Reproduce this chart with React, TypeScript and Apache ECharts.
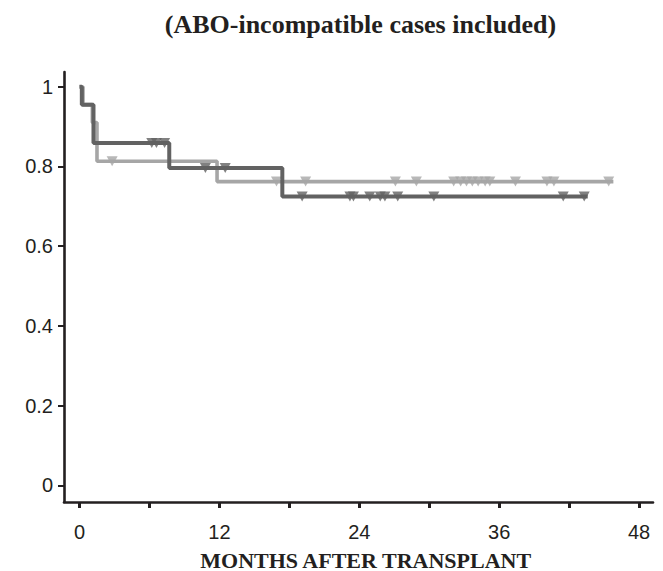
import React, { useEffect, useRef } from "react";
import * as echarts from "echarts";

// Kaplan-Meier step curves (time in months, survival proportion)
const darkTimes = [0, 0.2, 1.2, 7.7, 17.4, 43.6];
const darkSurv = [1, 0.955, 0.859, 0.796, 0.725, 0.725];
const lightTimes = [0, 0.3, 1.1, 1.5, 11.8, 45.8];
const lightSurv = [1, 0.955, 0.91, 0.813, 0.762, 0.762];

// censored observations
const darkCensorTimes = [6.2, 6.6, 7.3, 10.8, 12.5, 19.1, 23.2, 23.5, 24.9, 25.8, 26.2, 27.3, 30.4, 41.5, 43.3];
const darkCensorSurv = [0.859, 0.859, 0.859, 0.796, 0.796, 0.725, 0.725, 0.725, 0.725, 0.725, 0.725, 0.725, 0.725, 0.725, 0.725];
const lightCensorTimes = [2.8, 16.9, 19.4, 27.1, 28.9, 32.1, 32.7, 33.2, 33.7, 34.2, 34.8, 35.2, 37.4, 40.1, 40.7, 45.4];
const lightCensorSurv = [0.813, 0.762, 0.762, 0.762, 0.762, 0.762, 0.762, 0.762, 0.762, 0.762, 0.762, 0.762, 0.762, 0.762, 0.762, 0.762];

const xTicks = [0, 6, 12, 18, 24, 30, 36, 42, 48];
const xLabels = [0, 12, 24, 36, 48];
const yTicks = [0, 0.2, 0.4, 0.6, 0.8, 1];

const titleText = "(ABO-incompatible cases included)";
const xTitle = "MONTHS AFTER TRANSPLANT";

const DARK = "#626262";
const LIGHT = "#a6a6a6";
const INK = "#231f20";

const zip = (a: number[], b: number[]) => a.map((v, i) => [v, b[i]]);

export default function App() {
  const ref = useRef<HTMLDivElement>(null);
  useEffect(() => {
    if (!ref.current) return;
    const chart = echarts.init(ref.current, undefined, { renderer: "svg" });
    chart.setOption({
      animation: false,
      backgroundColor: "#ffffff",
      grid: { left: 64, top: 72, width: 589, height: 430, containLabel: false },
      xAxis: {
        type: "value",
        min: -1.33,
        max: 49.2,
        splitLine: { show: false },
        axisLine: { show: true, onZero: false, lineStyle: { color: INK, width: 2.6 } },
        axisTick: { show: true, customValues: xTicks, length: 6, lineStyle: { color: INK, width: 3 } },
        axisLabel: {
          customValues: xLabels,
          margin: 20,
          color: INK,
          fontSize: 20,
          fontFamily: "Liberation Sans, Arial, sans-serif",
        },
      },
      yAxis: {
        type: "value",
        min: -0.0414,
        max: 1.0369,
        splitLine: { show: false },
        axisLine: { show: true, onZero: false, lineStyle: { color: INK, width: 2.6 } },
        axisTick: { show: true, customValues: yTicks, length: 6, lineStyle: { color: INK, width: 2 } },
        axisLabel: {
          customValues: yTicks,
          margin: 11,
          color: INK,
          fontSize: 20,
          fontFamily: "Liberation Sans, Arial, sans-serif",
        },
      },
      graphic: [
        {
          type: "text",
          x: 360.5,
          y: 24,
          style: {
            text: titleText,
            fill: INK,
            font: "bold 26px 'Liberation Serif', 'Times New Roman', serif",
            textAlign: "center",
            textVerticalAlign: "middle",
          },
        },
        {
          type: "text",
          x: 365.7,
          y: 571,
          style: {
            text: xTitle,
            fill: INK,
            font: "bold 22px 'Liberation Serif', 'Times New Roman', serif",
            textAlign: "center",
            textVerticalAlign: "bottom",
          },
        },
      ],
      series: [
        {
          type: "line",
          step: "end",
          data: zip(lightTimes, lightSurv),
          showSymbol: false,
          lineStyle: { color: LIGHT, width: 3.6 },
          z: 2,
        },
        {
          type: "scatter",
          data: zip(lightCensorTimes, lightCensorSurv),
          symbol: "triangle",
          symbolRotate: 180,
          symbolSize: [11, 10],
          itemStyle: { color: LIGHT },
          z: 3,
        },
        {
          type: "line",
          step: "end",
          data: zip(darkTimes, darkSurv),
          showSymbol: false,
          lineStyle: { color: DARK, width: 4 },
          z: 4,
        },
        {
          type: "scatter",
          data: zip(darkCensorTimes, darkCensorSurv),
          symbol: "triangle",
          symbolRotate: 180,
          symbolSize: [11, 10],
          itemStyle: { color: DARK },
          z: 5,
        },
      ],
    });
    return () => chart.dispose();
  }, []);
  return (
    <div
      ref={ref}
      style={{ position: "fixed", left: 0, top: 0, width: 663, height: 571, background: "#fff" }}
    />
  );
}
